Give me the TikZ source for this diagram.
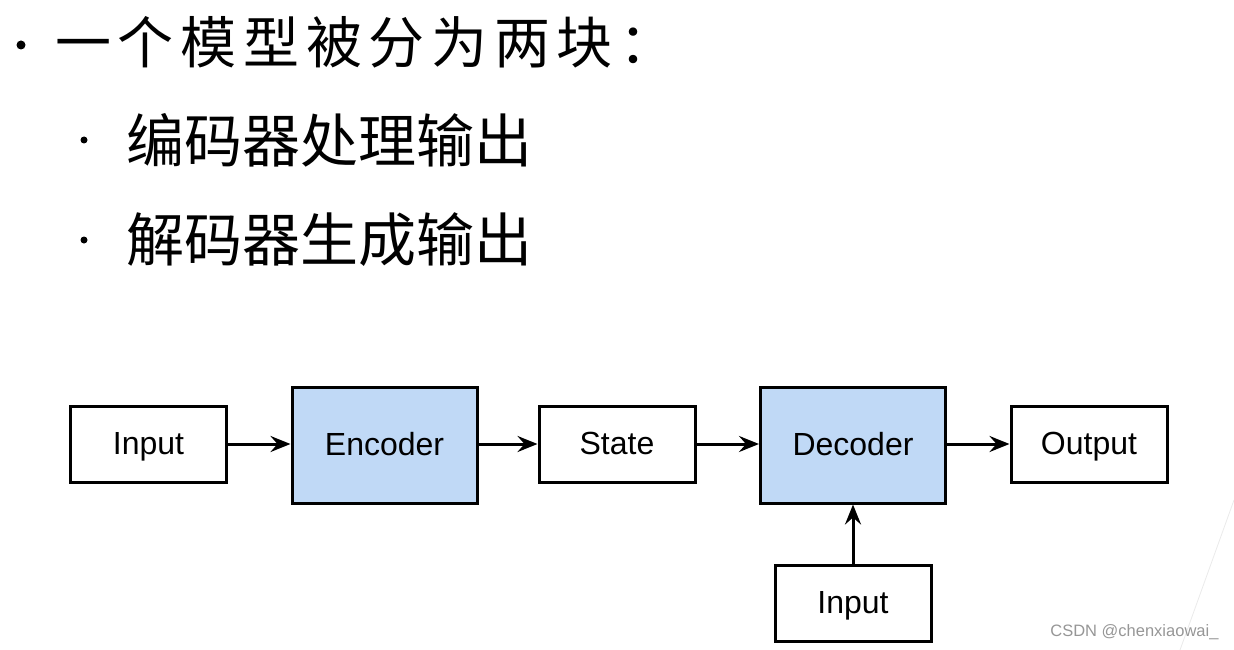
\documentclass[tikz,border=0pt]{standalone}
\usepackage{fontspec}
\setmainfont{Liberation Sans}
\newfontfamily\cjk{Noto Sans CJK SC}
\newfontfamily\cjkwide[LetterSpace=12]{Noto Sans CJK SC}
\usetikzlibrary{positioning}
\usetikzlibrary{arrows.meta}

\definecolor{boxblue}{RGB}{192,217,246}
\definecolor{markgray}{RGB}{150,150,150}

\tikzset{
  block/.style={rectangle, draw, line width=3pt, minimum width=156pt, minimum height=76pt,
    text height=23pt, text depth=3pt, font=\fontsize{32}{38}\selectfont},
  coder/.style={block, fill=boxblue, minimum width=185pt, minimum height=116pt},
  flow/.style={line width=3pt, -{Stealth[length=20pt, width=16pt, inset=7pt]}},
  cjktext/.style={anchor=west, inner sep=0pt, font=\cjk\fontsize{58}{64}\selectfont},
  dot/.style={circle, fill, inner sep=0pt},
}

\begin{document}
\begin{tikzpicture}[x=1pt, y=-1pt]
        \useasboundingbox (0,0) rectangle (1234,650);
        % bullet list
        \node[dot, minimum size=9pt] (b0) at (21, 45) {};
        \node[cjktext, font=\cjkwide\fontsize{56}{64}\selectfont] (t0) at (55, 42) {一个模型被分为两块：};
        \node[dot, minimum size=7pt] (b1) at (84, 140) {};
        \node[cjktext] (t1) at (126, 140) {编码器处理输出};
        \node[dot, minimum size=7pt] (b2) at (84, 240) {};
        \node[cjktext] (t2) at (126, 240) {解码器生成输出};
        % blocks
        \node[block] (in1) at (148.5, 444) {Input};
        \node[coder] (enc) at (384.5, 445) {Encoder};
        \node[block] (state) at (617, 444) {State};
        \node[coder] (dec) at (853, 445) {Decoder};
        \node[block] (out) at (1089, 444) {Output};
        \node[block] (in2) at (853, 603) {Input};
        \draw[flow] (in1) -- (in1 -| enc.west);
        \draw[flow] (enc.east |- state) -- (state);
        \draw[flow] (state) -- (state -| dec.west);
        \draw[flow] (dec.east |- out) -- (out);
        \draw[flow] (in2) -- (dec);
        % watermark
        \coordinate (m1) at (1234, 500);
        \coordinate (m2) at (1180, 650);
        \draw[markgray!20, line width=0.8pt] (m1) -- (m2);
        \node[anchor=east, text=markgray, font=\fontsize{16.5}{18}\selectfont] (mark) at (1222, 632) {CSDN @chenxiaowai\_};
    \end{tikzpicture}
\end{document}
